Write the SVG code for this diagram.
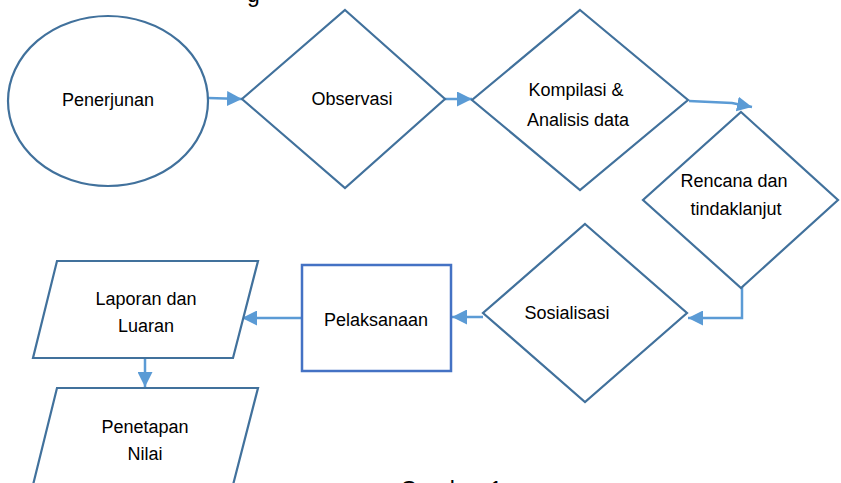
<svg xmlns="http://www.w3.org/2000/svg" width="841" height="483" viewBox="0 0 841 483">
  <style>
    .shape { fill: #ffffff; stroke: #41719C; stroke-width: 2.2; }
    .box { fill: #ffffff; stroke: #4472C4; stroke-width: 2.5; }
    .link { fill: none; stroke: #5B9BD5; stroke-width: 2.5; }
    .label { font-family: "Liberation Sans", Arial, sans-serif; font-size: 18px; fill: #000000; text-anchor: middle; }
    .caption { font-family: "Liberation Sans", Arial, sans-serif; font-size: 23px; fill: #000000; }
  </style>
  <defs>
    <marker id="arrow" viewBox="0 0 10 10" refX="10" refY="5" markerWidth="6" markerHeight="6" markerUnits="strokeWidth" orient="auto">
      <path d="M0,0 L10,5 L0,10 Z" fill="#5B9BD5"/>
    </marker>
  </defs>

  <rect width="841" height="483" fill="#ffffff"/>

  <!-- caption fragments at the page edges -->
  <text class="caption" x="247" y="2">g</text>
  <text class="caption" x="400" y="498">Gambar 1</text>

  <g id="connectors">
    <line class="link" x1="208" y1="98" x2="242" y2="99" marker-end="url(#arrow)"/>
    <line class="link" x1="445" y1="99" x2="472" y2="99" marker-end="url(#arrow)"/>
    <polyline class="link" points="689,101 732,103 752,107" marker-end="url(#arrow)"/>
    <polyline class="link" points="742,286 742,318 688,318" marker-end="url(#arrow)"/>
    <line class="link" x1="483" y1="317" x2="452" y2="317" marker-end="url(#arrow)"/>
    <line class="link" x1="302" y1="318" x2="242" y2="318" marker-end="url(#arrow)"/>
    <line class="link" x1="145" y1="354" x2="145" y2="387" marker-end="url(#arrow)"/>
  </g>

  <g id="penerjunan">
    <ellipse class="shape" cx="108" cy="101" rx="100" ry="85"/>
    <text class="label" x="108" y="106">Penerjunan</text>
  </g>

  <g id="observasi">
    <polygon class="shape" points="345,10 445,99 345,188 242,99"/>
    <text class="label" x="352" y="105">Observasi</text>
  </g>

  <g id="kompilasi">
    <polygon class="shape" points="580,10 688,100 580,190 472,100"/>
    <text class="label" x="576" y="96">Kompilasi &amp;</text>
    <text class="label" x="578" y="126">Analisis data</text>
  </g>

  <g id="rencana">
    <polygon class="shape" points="741,112 838,200 741,288 643,200"/>
    <text class="label" x="734" y="187">Rencana dan</text>
    <text class="label" x="736" y="215">tindaklanjut</text>
  </g>

  <g id="sosialisasi">
    <polygon class="shape" points="585,224 687,313 585,402 483,313"/>
    <text class="label" x="567" y="319">Sosialisasi</text>
  </g>

  <g id="pelaksanaan">
    <rect class="box" x="302" y="265" width="149" height="106"/>
    <text class="label" x="376" y="326">Pelaksanaan</text>
  </g>

  <g id="laporan">
    <polygon class="shape" points="57,261 258,261 233,358 33,358"/>
    <text class="label" x="146" y="305">Laporan dan</text>
    <text class="label" x="146" y="332">Luaran</text>
  </g>

  <g id="penetapan">
    <polygon class="shape" points="57,388 258,388 233,485 33,485"/>
    <text class="label" x="145" y="433">Penetapan</text>
    <text class="label" x="145" y="460">Nilai</text>
  </g>
</svg>
